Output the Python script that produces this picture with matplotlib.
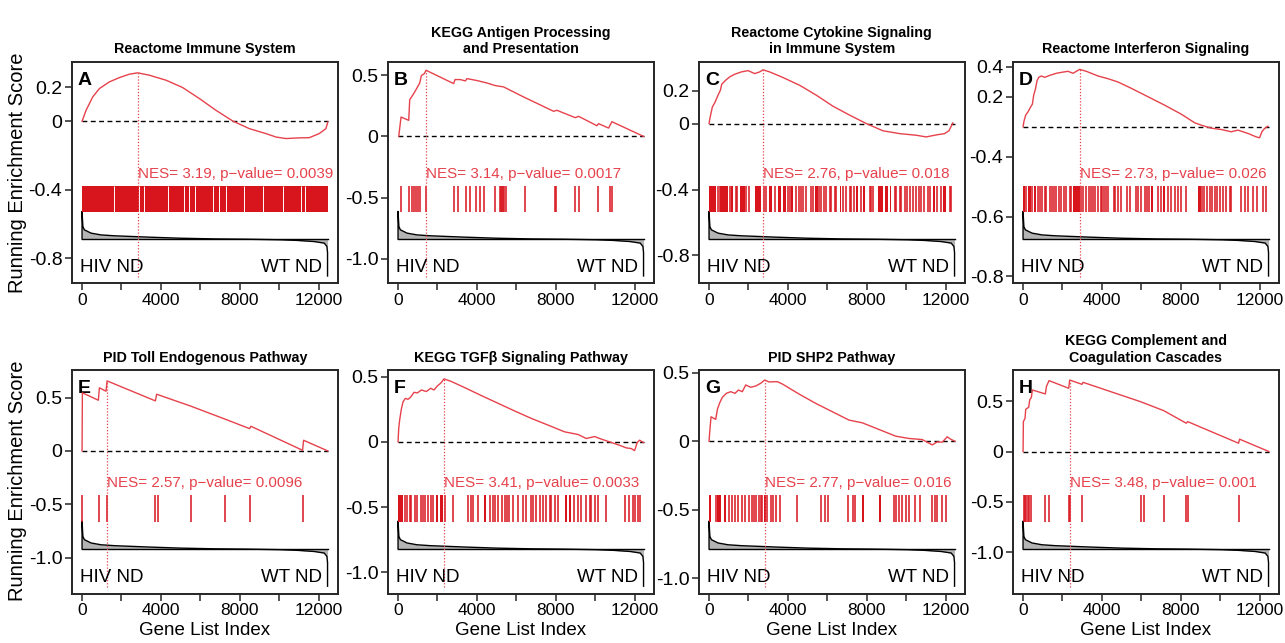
import matplotlib
matplotlib.use("Agg")
import matplotlib.pyplot as plt

REG = ['Liberation Sans', 'DejaVu Sans']
plt.rcParams['font.family'] = REG

N_GENES = 12470

titles = ['Reactome Immune System', 'KEGG Antigen Processing\nand Presentation',
          'Reactome Cytokine Signaling\nin Immune System', 'Reactome Interferon Signaling',
          'PID Toll Endogenous Pathway', 'KEGG TGF\u03b2 Signaling Pathway',
          'PID SHP2 Pathway', 'KEGG Complement and\nCoagulation Cascades']
letters = ['A', 'B', 'C', 'D', 'E', 'F', 'G', 'H']
nes_values = ['3.19', '3.14', '2.76', '2.73', '2.57', '3.41', '2.77', '3.48']
p_values = ['0.0039', '0.0017', '0.018', '0.026', '0.0096', '0.0033', '0.016', '0.001']

# running enrichment score curves (rank, ES)
es_rank_A = [0, 203, 541, 879, 1386, 1893, 2400, 2822, 3414, 4259, 5104, 5949, 6794, 7639, 8484,
             9329, 9836, 10343, 11019, 11526, 12033, 12371, 12470]
es_A = [0, 0.064, 0.142, 0.191, 0.230, 0.255, 0.275, 0.283, 0.269, 0.240, 0.197, 0.133, 0.064, 0.002,
        -0.043, -0.072, -0.092, -0.101, -0.097, -0.096, -0.072, -0.043, -0.004]
es_rank_B = [34, 152, 541, 592, 794, 930, 1099, 1183, 1335, 1420, 2822, 2890, 3160, 3414, 3498, 4005,
             4512, 4935, 5357, 6371, 7892, 8061, 8991, 9160, 10089, 10174, 10681, 10850, 12455]
es_B = [0, 0.158, 0.131, 0.300, 0.349, 0.387, 0.436, 0.496, 0.513, 0.540, 0.431, 0.464, 0.464, 0.453,
        0.472, 0.456, 0.436, 0.415, 0.404, 0.322, 0.205, 0.213, 0.153, 0.164, 0.087, 0.104, 0.068,
        0.120, 0]
es_rank_C = [0, 51, 169, 287, 456, 575, 642, 845, 1048, 1301, 1639, 1977, 2315, 2569, 2738, 3076, 3752,
             4597, 5442, 6287, 7132, 7977, 8822, 9667, 10512, 11019, 11526, 11948, 12168, 12371]
es_C = [0, 0.036, 0.101, 0.125, 0.172, 0.202, 0.238, 0.263, 0.283, 0.299, 0.313, 0.321, 0.303, 0.313,
        0.326, 0.313, 0.279, 0.232, 0.172, 0.105, 0.051, 0, -0.044, -0.061, -0.071, -0.081, -0.069,
        -0.061, -0.044, 0.004]
es_rank_D = [0, 51, 135, 254, 372, 473, 541, 625, 710, 794, 930, 1099, 1352, 1690, 2028, 2282, 2535,
             2873, 3211, 3803, 4310, 4817, 5493, 6338, 7182, 8028, 8704, 9042, 9549, 10055, 10563,
             10901, 11408, 11830, 12000, 12118, 12253, 12422]
es_D = [0, 0.040, 0.078, 0.100, 0.129, 0.151, 0.211, 0.249, 0.307, 0.329, 0.338, 0.329, 0.342, 0.356,
        0.364, 0.369, 0.356, 0.382, 0.369, 0.338, 0.320, 0.298, 0.256, 0.200, 0.144, 0.084, 0.027,
        0.011, -0.009, -0.018, -0.033, -0.022, -0.044, -0.067, -0.073, -0.033, -0.011, 0.004]
es_rank_E = [0, 17, 828, 879, 1217, 1268, 3718, 3786, 5526, 7267, 8501, 8568, 11188, 11239, 12470]
es_E = [0, 0.544, 0.475, 0.591, 0.559, 0.656, 0.469, 0.531, 0.419, 0.297, 0.209, 0.231, 0.006, 0.100, 0]
es_rank_F = [0, 34, 85, 169, 254, 372, 507, 642, 811, 980, 1183, 1436, 1656, 1825, 1994, 2163, 2332,
             2704, 3380, 4225, 5070, 5915, 6760, 7605, 8450, 9126, 9549, 9971, 10225, 10732, 11239,
             11577, 11830, 12000, 12135, 12253, 12455]
es_F = [0, 0.103, 0.172, 0.252, 0.308, 0.334, 0.326, 0.344, 0.380, 0.375, 0.398, 0.386, 0.411, 0.398,
        0.429, 0.450, 0.483, 0.463, 0.416, 0.355, 0.296, 0.237, 0.180, 0.129, 0.077, 0.057, 0.026,
        0.041, 0.026, 0, -0.026, -0.046, -0.051, -0.067, -0.005, 0.013, -0.005]
es_rank_G = [0, 34, 101, 338, 423, 541, 676, 879, 1099, 1318, 1487, 1690, 1859, 2113, 2366, 2620, 2822,
             3042, 3465, 3718, 4563, 5408, 6253, 7098, 7774, 8788, 9464, 10140, 10816, 11323, 11577,
             11830, 12084, 12253, 12470]
es_G = [0, 0.068, 0.178, 0.159, 0.232, 0.280, 0.320, 0.349, 0.361, 0.349, 0.373, 0.361, 0.410, 0.393,
        0.402, 0.422, 0.446, 0.432, 0.434, 0.417, 0.344, 0.276, 0.215, 0.154, 0.134, 0.076, 0.037,
        0.020, 0.012, -0.027, -0.005, -0.007, 0.032, 0.015, 0]
es_rank_H = [0, 17, 101, 135, 287, 338, 423, 473, 1132, 1183, 1318, 2315, 2366, 2991, 3042, 5949, 7132,
             8281, 8349, 10934, 10985, 12470]
es_H = [0, 0.296, 0.329, 0.418, 0.438, 0.511, 0.537, 0.609, 0.570, 0.642, 0.702, 0.626, 0.708, 0.665,
        0.685, 0.494, 0.405, 0.280, 0.296, 0.082, 0.122, 0]

# gene-set hits: single genes (rank) and dense runs (start, end)
hits_A = []
runs_A = [(0, 12470)]
gaps_A = [1639, 2907, 3127, 4377, 5188, 5408, 5746, 6642, 6963, 7301, 8230, 9160, 10208, 11103, 11323]
hits_B = [152, 575, 710, 828, 930, 1014, 1132, 1420, 2856, 3025, 3465, 3667, 3972, 4174, 4377, 4901,
          5155, 5205, 5256, 5324, 5391, 5493, 6422, 7943, 8028, 8991, 9160, 10123, 10732, 10850]
runs_B = []
hits_C = [456, 541, 1048, 1352, 1420, 1893, 2028, 2772, 2907, 3329, 4005, 4090, 4428, 4563, 4681, 4766,
          4935, 5188, 5273, 5577, 5695, 5814, 5949, 6118, 6202, 6371, 6456, 6794, 6963, 7132, 7216,
          7335, 7723, 8146, 8230, 8315, 9413, 9498, 9667, 9751, 9920, 10039, 10174, 10343, 10512,
          10647, 10765, 10884, 11103, 11188, 11560, 11779, 12202, 12287]
runs_C = [(0, 372), (575, 963), (1132, 1217), (1555, 1808), (2315, 2653), (3042, 3211), (3498, 3634),
          (3752, 3921), (4175, 4259), (5357, 5526), (6625, 6709), (7470, 7554), (7808, 7892),
          (8568, 8822), (8906, 9075), (9160, 9244), (11357, 11442), (11864, 12033)]
hits_D = [169, 473, 761, 879, 980, 1099, 1183, 1352, 1470, 1572, 1690, 1808, 1944, 2079, 2197, 2366,
          2451, 2958, 3042, 3211, 3329, 3465, 3549, 3667, 3803, 3938, 4022, 4107, 4225, 4310, 4614,
          4681, 4817, 4986, 5290, 5442, 5746, 5831, 5966, 6169, 6304, 6388, 6845, 7014, 7352, 7521,
          7723, 7858, 8028, 8281, 9075, 9177, 9346, 9464, 9582, 9718, 9853, 9971, 10140, 10309, 10478,
          10563, 11070, 11272, 11408, 11661, 11881, 12168, 12337]
runs_D = [(0, 85), (254, 389), (558, 676), (2535, 2873), (6507, 6591), (7098, 7182), (8873, 9008)]
hits_E = [0, 879, 1268, 3718, 3836, 5526, 7267, 8501, 11205]
runs_E = []
hits_F = [338, 473, 592, 676, 845, 980, 1149, 1268, 1386, 1521, 1690, 1775, 2366, 2789, 3549, 3684,
          3803, 4056, 4648, 4817, 4935, 5070, 5273, 5408, 5543, 5611, 5831, 6084, 6338, 6507, 6760,
          6845, 7014, 7183, 7352, 7521, 7690, 7774, 7977, 8112, 8923, 9126, 9295, 9549, 9718, 9802,
          9971, 10140, 10563, 11492, 11695, 11915, 12033, 12168, 12253]
runs_F = [(0, 254), (1944, 2028), (2113, 2282), (4360, 4479), (8450, 8585), (8653, 8754)]
hits_G = [338, 1014, 1183, 1318, 1487, 1656, 1825, 2028, 2163, 2282, 2400, 2535, 2620, 2704, 2958,
          3127, 3245, 3380, 3600, 4445, 5662, 5881, 6050, 7064, 7301, 7402, 9380, 9498, 9633, 9802,
          9971, 10140, 10444, 10681, 11323, 11458, 11577, 11830, 12033]
runs_G = [(0, 85), (423, 592), (761, 845), (2789, 2873), (7774, 7842), (8619, 8704)]
hits_H = [34, 85, 169, 254, 321, 406, 1132, 1301, 2315, 2383, 2991, 5983, 6118, 7132, 8281, 8366, 10934]
runs_H = []

# ranked list metric (shared), in normalised units
metric_rank = [0, 0, 40, 118, 456, 963, 1639, 3329, 5019, 6709, 8399, 10089, 10934, 11779, 12286,
               12422, 12455, 12455]
metric_score = [0, 1.0, 0.45, 0.33, 0.21, 0.145, 0.113, 0.065, 0.024, 0.0, -0.012, -0.032, -0.056,
                -0.097, -0.153, -0.274, -0.5, -1.35]

panels = [
    (es_rank_A, es_A, hits_A, runs_A, gaps_A),
    (es_rank_B, es_B, hits_B, runs_B, []),
    (es_rank_C, es_C, hits_C, runs_C, []),
    (es_rank_D, es_D, hits_D, runs_D, []),
    (es_rank_E, es_E, hits_E, runs_E, []),
    (es_rank_F, es_F, hits_F, runs_F, []),
    (es_rank_G, es_G, hits_G, runs_G, []),
    (es_rank_H, es_H, hits_H, runs_H, []),
]

ylims = [(-0.946, 0.348), (-1.199, 0.61), (-0.968, 0.375), (-1.04, 0.433),
         (-1.335, 0.758), (-1.162, 0.551), (-1.11, 0.519), (-1.406, 0.807)]
yticks = [
    ([0.2, 0, -0.4, -0.8], ['0.2', '0', '-0.4', '-0.8']),
    ([0.5, 0, -0.5, -1.0], ['0.5', '0', '-0.5', '-1.0']),
    ([0.2, 0, -0.4, -0.8], ['0.2', '0', '-0.4', '-0.8']),
    ([0.4, 0.2, -0.198, -0.598, -0.993], ['0.4', '0.2', '-0.4', '-0.6', '-0.8']),
    ([0.5, 0, -0.5, -1.0], ['0.5', '0', '-0.5', '-1.0']),
    ([0.5, 0, -0.5, -1.0], ['0.5', '0', '-0.5', '-1.0']),
    ([0.5, 0, -0.5, -1.0], ['0.5', '0', '-0.5', '-1.0']),
    ([0.5, 0, -0.5, -1.0], ['0.5', '0', '-0.5', '-1.0']),
]
xtick_vals = [0, 2000, 4000, 6000, 8000, 10000, 12000]
xtick_labels = ['0', '', '4000', '', '8000', '', '12000']

RED_LINE = '#E6424C'
RED_HIT = '#D8141C'
FRAME = '#262626'

W, H = 1285, 643
fig = plt.figure(figsize=(W / 100, H / 100), dpi=100)
lefts = [72, 388, 699, 1013]
rows = [(61.7, 283.2), (370.0, 593.5)]
width = 265.5

HIT_LO, HIT_HI = 0.32, 0.44
MB, MS = 0.2, 0.124

for i, (rk, es, hits, runs, gaps) in enumerate(panels):
    r, c = divmod(i, 4)
    top, bot = rows[r]
    ax = fig.add_axes([lefts[c] / W, 1 - bot / H, width / W, (bot - top) / H])
    ax.set_xlim(-510, 12960)
    ax.set_ylim(*ylims[i])
    xt = ax.get_xaxis_transform()

    # ranked metric
    mfrac = [MB + MS * s for s in metric_score]
    ax.fill_between(metric_rank, MB, mfrac, transform=xt, color='#B4B4B4', lw=0, zorder=1)
    ax.plot(metric_rank, mfrac, transform=xt, color='black', lw=1.0, zorder=2)
    ax.plot([0, metric_rank[-1]], [MB, MB], transform=xt, color='black', lw=1.0, zorder=2)

    # hits
    for s, e in runs:
        ax.axvspan(s, e, ymin=HIT_LO, ymax=HIT_HI, color=RED_HIT, lw=0, zorder=2)
    if hits:
        ax.vlines(hits, HIT_LO, HIT_HI, transform=xt, color=RED_HIT, lw=1.1, zorder=2)
    if gaps:
        ax.vlines(gaps, HIT_LO, HIT_HI, transform=xt, color='white', lw=0.7, zorder=3)

    # zero line and ES curve
    ax.hlines(0, 0, N_GENES, colors='black', linestyles=(0, (3.5, 2.5)), lw=1.0, zorder=2)
    ax.plot(rk, es, color=RED_LINE, lw=1.0, zorder=4)
    k = max(range(len(es)), key=lambda j: es[j])
    px, py = rk[k], es[k]
    y0, y1 = ylims[i]
    ax.vlines(px, y0 + 0.03 * (y1 - y0), py, colors=RED_LINE, linestyles=(0, (1, 1.5)), lw=0.9, zorder=3)

    ax.text(px, 0.495, 'NES= %s, p\u2212value= %s' % (nes_values[i], p_values[i]), transform=xt,
            color=RED_LINE, fontsize=10.9, ha='left', va='center')
    ax.text(0.03, 0.072, 'HIV ND', transform=ax.transAxes, fontsize=13.5, ha='left', va='center')
    ax.text(0.94, 0.072, 'WT ND', transform=ax.transAxes, fontsize=13.5, ha='right', va='center')
    ax.text(0.022, 0.915, letters[i], transform=ax.transAxes, fontsize=14, fontweight='bold',
            ha='left', va='center')

    ax.set_title(titles[i], fontsize=10.3, fontweight='bold', pad=6, linespacing=1.2)

    ax.set_xticks(xtick_vals)
    ax.set_xticklabels(xtick_labels, fontsize=12.5)
    ax.set_yticks(yticks[i][0])
    ax.set_yticklabels(yticks[i][1], fontsize=14)
    ax.tick_params(direction='out', length=5, width=1.1, color=FRAME, pad=2)
    for sp in ax.spines.values():
        sp.set_color(FRAME)
        sp.set_linewidth(1.4)
    if r == 1:
        ax.set_xlabel('Gene List Index', fontsize=13.5, labelpad=3)

fig.text(0.014, 1 - 173 / H, 'Running Enrichment Score', rotation=90, fontsize=14.5, ha='center', va='center')
fig.text(0.014, 1 - 481 / H, 'Running Enrichment Score', rotation=90, fontsize=14.5, ha='center', va='center')

fig.savefig('out.png', dpi=100)
